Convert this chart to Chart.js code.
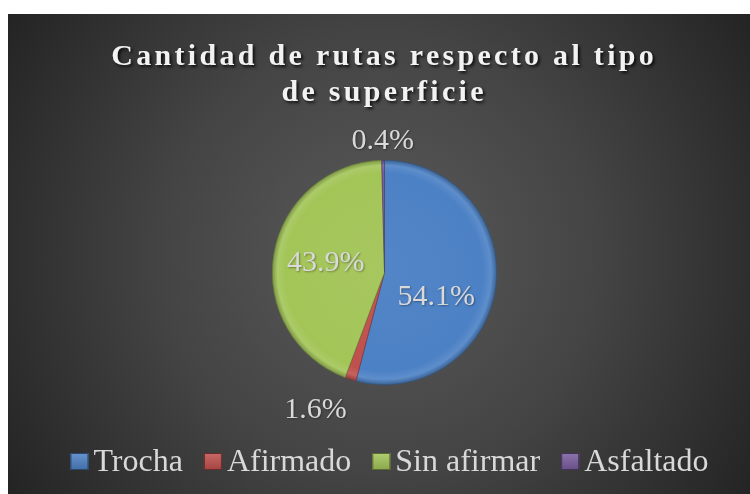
<!DOCTYPE html>
<html><head><meta charset="utf-8">
<script src="https://cdn.jsdelivr.net/npm/chart.js@4/dist/chart.umd.min.js"></script>
<style>
html,body{margin:0;padding:0;background:#fff;}
#wrap{position:absolute;left:8px;top:14px;width:742px;height:480px;}
</style></head><body>
<div id="wrap"><canvas id="c" width="742" height="480"></canvas></div>
<script>
const titleLines = ['Cantidad de rutas respecto al tipo', 'de superficie'];
const categories = ['Trocha', 'Afirmado', 'Sin afirmar', 'Asfaltado'];
const values = [54.1, 1.6, 43.9, 0.4];
const valueLabels = ['54.1%', '1.6%', '43.9%', '0.4%'];
const colors = ['#4c81c5', '#c0504d', '#a3c558', '#7a5c9e'];
// label placement per slice: [radius factor, angle offset in degrees]
const labelPlacement = [[0.51, 18], [1.37, 9], [0.53, 0], [1.17, 0]];

function shade(hex, amt) {
  const n = parseInt(hex.slice(1), 16);
  let r = (n >> 16) & 255, g = (n >> 8) & 255, b = n & 255;
  const f = c => Math.max(0, Math.min(255, Math.round(amt >= 0 ? c + (255 - c) * amt : c * (1 + amt))));
  return `rgb(${f(r)},${f(g)},${f(b)})`;
}

function sliceFill(ctx) {
  const chart = ctx.chart;
  const base = colors[ctx.dataIndex];
  const a = chart.chartArea;
  if (!a) return base;
  const cx = (a.left + a.right) / 2, cy = (a.top + a.bottom) / 2;
  const r = Math.min(a.right - a.left, a.bottom - a.top) / 2;
  const g = chart.ctx.createRadialGradient(cx - 4, cy - 4, 0, cx, cy, r);
  g.addColorStop(0, shade(base, 0.04));
  g.addColorStop(0.88, base);
  g.addColorStop(0.95, shade(base, 0.1));
  g.addColorStop(1, shade(base, -0.25));
  return g;
}

const custom = {
  id: 'custom',
  beforeDraw(chart) {
    const { ctx, width, height } = chart;
    ctx.save();
    const g = ctx.createRadialGradient(372, 240, 0, 372, 240, 440);
    g.addColorStop(0, '#5a5a5a');
    g.addColorStop(0.5, '#444444');
    g.addColorStop(1, '#242424');
    ctx.fillStyle = g;
    ctx.fillRect(0, 0, width, height);
    ctx.restore();
  },
  afterDatasetsDraw(chart) {
    const { ctx } = chart;
    const meta = chart.getDatasetMeta(0);
    ctx.save();
    ctx.font = '30px "Liberation Serif", "Times New Roman", serif';
    ctx.fillStyle = '#d9d9d9';
    ctx.textAlign = 'center';
    ctx.textBaseline = 'middle';
    ctx.shadowColor = 'rgba(0,0,0,0.35)';
    ctx.shadowOffsetX = 1; ctx.shadowOffsetY = 1; ctx.shadowBlur = 2;
    meta.data.forEach((arc, i) => {
      const mid = (arc.startAngle + arc.endAngle) / 2 + labelPlacement[i][1] * Math.PI / 180;
      const rr = arc.outerRadius * labelPlacement[i][0];
      ctx.fillText(valueLabels[i], arc.x + Math.cos(mid) * rr, arc.y + Math.sin(mid) * rr);
    });
    ctx.restore();
  },
  afterDraw(chart) {
    const { ctx } = chart;
    ctx.save();
    // title
    ctx.font = 'bold 30px "Liberation Serif", "Times New Roman", serif';
    ctx.letterSpacing = '3.3px';
    ctx.textAlign = 'center';
    ctx.textBaseline = 'alphabetic';
    ctx.fillStyle = '#f2f2f2';
    ctx.shadowColor = 'rgba(0,0,0,0.75)';
    ctx.shadowOffsetX = 2; ctx.shadowOffsetY = 2; ctx.shadowBlur = 3;
    ctx.fillText(titleLines[0], 374.5 + 1.65, 51);
    ctx.fillText(titleLines[1], 374.5 + 1.65, 87);
    ctx.restore();

    // legend
    ctx.save();
    ctx.font = '32px "Liberation Serif", "Times New Roman", serif';
    const boxW = 18, boxH = 17, boxGap = 5, itemGap = 21;
    const widths = categories.map(t => ctx.measureText(t).width);
    let total = 0;
    widths.forEach((w, i) => { total += boxW + boxGap + w + (i < widths.length - 1 ? itemGap : 0); });
    let x = 381.5 - total / 2;
    const boxTop = 439, baseline = 457;
    categories.forEach((t, i) => {
      const base = colors[i];
      const lg = ctx.createLinearGradient(0, boxTop, 0, boxTop + boxH);
      lg.addColorStop(0, shade(base, 0.15));
      lg.addColorStop(1, shade(base, -0.15));
      ctx.fillStyle = lg;
      ctx.fillRect(x, boxTop, boxW, boxH);
      ctx.strokeStyle = shade(base, -0.45);
      ctx.lineWidth = 1;
      ctx.strokeRect(x + 0.5, boxTop + 0.5, boxW - 1, boxH - 1);
      x += boxW + boxGap;
      ctx.fillStyle = '#d9d9d9';
      ctx.textAlign = 'left';
      ctx.textBaseline = 'alphabetic';
      ctx.fillText(t, x, baseline);
      x += widths[i] + itemGap;
    });
    ctx.restore();
  }
};

new Chart(document.getElementById('c'), {
  type: 'pie',
  data: {
    labels: categories,
    datasets: [{
      data: values,
      backgroundColor: sliceFill,
      borderColor: colors.map(c => shade(c, -0.35)),
      borderWidth: 0.6
    }]
  },
  options: {
    responsive: false,
    animation: false,
    devicePixelRatio: 1,
    layout: { padding: { top: 146, bottom: 109, left: 11, right: 0 } },
    plugins: { legend: { display: false }, tooltip: { enabled: false }, title: { display: false } }
  },
  plugins: [custom]
});
</script>
</body></html>
